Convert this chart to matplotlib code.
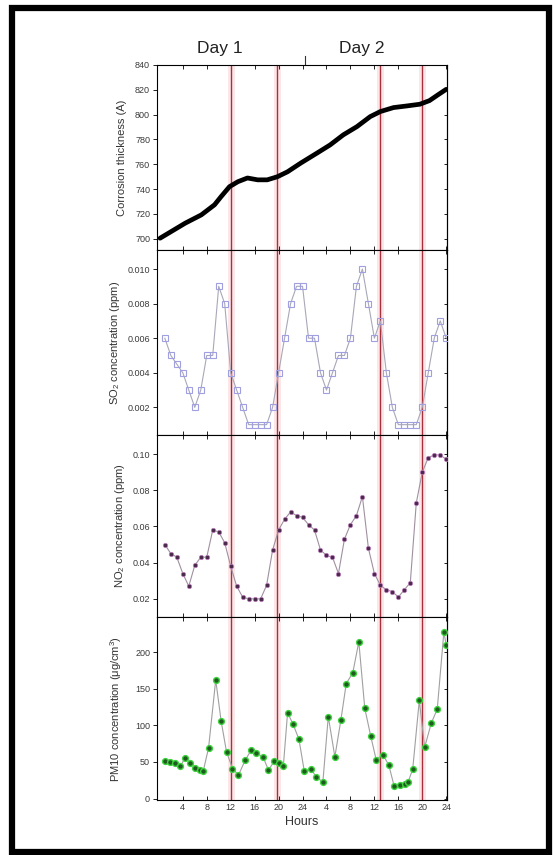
import matplotlib
matplotlib.use("Agg")
import matplotlib.pyplot as plt
from matplotlib.patches import Rectangle

plt.rcParams['font.family'] = ['Liberation Sans', 'DejaVu Sans']
plt.rcParams['mathtext.default'] = 'regular'

# corrosion thickness (A)
corr_hours = [0.2, 4.4, 7.1, 9.3, 10.4, 11.8, 13.2, 14.8, 16.5, 18.1, 19.8, 21.5, 23.7,
              26.4, 28.6, 30.8, 33.1, 35.3, 37.0, 39.2, 41.4, 43.6, 45.2, 46.6, 48.0]
corr = [700.5, 712.6, 719.3, 727.4, 734, 742, 746, 749, 747.5, 747.5, 750, 754, 761,
        769, 775.6, 783.7, 790.4, 798.4, 802.5, 805.7, 807, 808.4, 811.3, 815.9, 820.4]

# hourly gas readings (ppm)
hours = list(range(1, 49))
so2 = [0.006, 0.005, 0.0045, 0.004, 0.003, 0.002, 0.003, 0.005, 0.005, 0.009,
       0.008, 0.004, 0.003, 0.002, 0.001, 0.001, 0.001, 0.001, 0.002, 0.004,
       0.006, 0.008, 0.009, 0.009, 0.006, 0.006, 0.004, 0.003, 0.004, 0.005,
       0.005, 0.006, 0.009, 0.010, 0.008, 0.006, 0.007, 0.004, 0.002, 0.001,
       0.001, 0.001, 0.001, 0.002, 0.004, 0.006, 0.007, 0.006]
no2 = [0.050, 0.045, 0.043, 0.034, 0.027, 0.0385, 0.043, 0.043, 0.058, 0.057,
       0.051, 0.038, 0.027, 0.021, 0.020, 0.020, 0.020, 0.0275, 0.047, 0.058,
       0.064, 0.068, 0.066, 0.065, 0.061, 0.058, 0.047, 0.044, 0.043, 0.034,
       0.053, 0.061, 0.066, 0.0765, 0.048, 0.034, 0.0275, 0.025, 0.024, 0.021,
       0.025, 0.029, 0.073, 0.090, 0.098, 0.0995, 0.0995, 0.097]

# PM10 readings
pm_hours = [1.1, 1.9, 2.7, 3.6, 4.4, 5.2, 6.0, 6.9, 7.4, 8.3, 9.5, 10.4, 11.3, 12.3,
            13.3, 14.4, 15.4, 16.3, 17.4, 18.3, 19.3, 20.1, 20.8, 21.5, 22.4, 23.4,
            24.3, 25.4, 26.3, 27.4, 28.3, 29.4, 30.4, 31.3, 32.4, 33.4, 34.4, 35.4,
            36.3, 37.4, 38.4, 39.3, 40.2, 41.1, 41.6, 42.4, 43.5, 44.4, 45.5, 46.5,
            47.6, 48.0]
pm10 = [51, 50, 48, 44, 56, 49, 42, 39, 37, 69, 162, 106, 64, 41,
        32, 52, 66, 62, 57, 39, 51, 49, 45, 117, 102, 81,
        37, 41, 29, 23, 112, 57, 107, 157, 172, 214, 123, 85,
        53, 60, 46, 17, 18, 20, 22, 40, 134, 70, 103, 122,
        227, 210]

events = [12, 19.8, 37, 44]
tick_pos = list(range(4, 49, 4))
tick_lab = ['4', '8', '12', '16', '20', '24', '4', '8', '12', '16', '20', '24']

fig = plt.figure(figsize=(5.53, 8.55), dpi=100)

L, W = 0.284, 0.524
rows = [(0.7076, 0.2164), (0.4912, 0.2164), (0.2784, 0.2128), (0.0643, 0.2141)]
axes = [fig.add_axes([L, b, W, h]) for b, h in rows]

for ax in axes:
    ax.set_xlim(-0.3, 48.1)
    for e in events:
        ax.axvline(e, color='#f7b8bc', lw=5, alpha=0.35, zorder=1)
        ax.axvline(e, color='#a8303c', lw=1.0, zorder=2)
    ax.set_xticks(tick_pos)
    ax.tick_params(axis='both', direction='out', length=3, width=0.7, labelsize=6.5,
                   colors='#222222', labelcolor='#3a3a3a', pad=2)
    ax.tick_params(axis='x', top=True, direction='in')
    for s in ax.spines.values():
        s.set_linewidth(0.8)

ax1, ax2, ax3, ax4 = axes
for ax in axes[:3]:
    ax.set_xticklabels([])

ax1.plot(corr_hours, corr, color='black', lw=3.4, solid_capstyle='round', zorder=3)
ax1.set_ylim(691, 840)
ax1.set_yticks(range(700, 841, 20))
ax1.set_ylabel('Corrosion thickness (A)', fontsize=8, color='#333333', labelpad=6)

ax2.plot(hours, so2, color='#a8a8b8', lw=0.8, marker='s', ms=4, mfc='none',
         mec='#a0a0e0', mew=0.8, zorder=3)
ax2.set_ylim(0.0004, 0.0111)
ax2.set_yticks([0.002, 0.004, 0.006, 0.008, 0.010])
ax2.set_yticklabels(['0.002', '0.004', '0.006', '0.008', '0.010'])
ax2.set_ylabel('SO$_2$ concentration (ppm)', fontsize=8, color='#333333')

ax3.plot(hours, no2, color='#a090a0', lw=0.8, marker='o', ms=3.2, mfc='#4a2a4a',
         mec='#c080c0', mew=0.5, zorder=3)
ax3.set_ylim(0.010, 0.1105)
ax3.set_yticks([0.02, 0.04, 0.06, 0.08, 0.10])
ax3.set_yticklabels(['0.02', '0.04', '0.06', '0.08', '0.10'])
ax3.set_ylabel('NO$_2$ concentration (ppm)', fontsize=8, color='#333333')

ax4.plot(pm_hours, pm10, color='#a0a0a0', lw=0.8, marker='o', ms=4.2, mfc='#1f5a1f',
         mec='#3ed43e', mew=1.0, zorder=3)
ax4.set_ylim(-2, 248)
ax4.set_yticks([0, 50, 100, 150, 200])
ax4.set_ylabel('PM10 concentration ($\\mu$g/cm$^3$)', fontsize=8, color='#333333',
               labelpad=8)
ax4.set_xticklabels(tick_lab)
ax4.set_xlabel('Hours', fontsize=9, color='#333333', labelpad=3)

# small inward ticks on the right side of every panel
for ax in axes:
    sec = ax.secondary_yaxis('right')
    sec.set_yticks(ax.get_yticks())
    sec.tick_params(direction='in', length=2.5, width=0.6, labelright=False)

fig.text(0.398, 0.943, 'Day 1', fontsize=12.5, ha='center', va='center', color='#222222')
fig.text(0.655, 0.943, 'Day 2', fontsize=12.5, ha='center', va='center', color='#222222')
fig.add_artist(plt.Line2D([0.552, 0.552], [0.925, 0.935], color='#333333', lw=0.8,
                          transform=fig.transFigure))

fig.patches.append(Rectangle((0.0208, 0.003), 0.972, 0.988, transform=fig.transFigure,
                             fill=False, ec='black', lw=4.5))

fig.savefig('out.png', dpi=100)
